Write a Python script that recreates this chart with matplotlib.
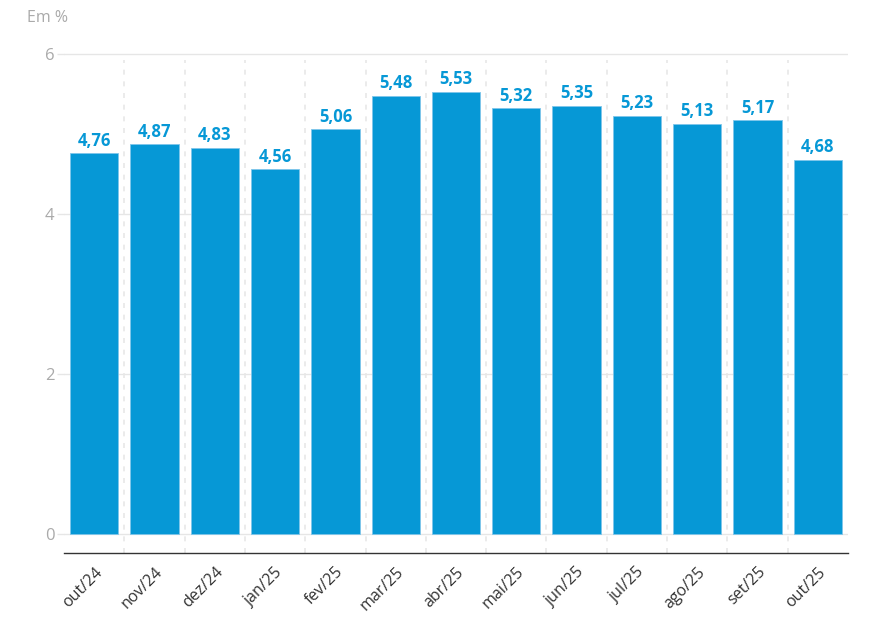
import matplotlib.pyplot as plt

plt.rcParams['font.family'] = ['Open Sans', 'DejaVu Sans']

months = ['out/24', 'nov/24', 'dez/24', 'jan/25', 'fev/25', 'mar/25', 'abr/25',
          'mai/25', 'jun/25', 'jul/25', 'ago/25', 'set/25', 'out/25']
rates = [4.76, 4.87, 4.83, 4.56, 5.06, 5.48, 5.53, 5.32, 5.35, 5.23, 5.13, 5.17, 4.68]
yticks = [0, 2, 4, 6]

blue = '#0698d6'
W, H = 873, 629
fig = plt.figure(figsize=(W / 100, H / 100), dpi=100)
ax = fig.add_axes([64 / W, (H - 553) / H, (848 - 64) / W, (553 - 50) / H])

ymin = -19 / 80
ax.set_xlim(-0.5, len(months) - 0.5)
ax.set_ylim(ymin, 6 + 4 / 80)

# horizontal gridlines
for t in yticks:
    ax.axhline(t, color='#e6e6e6', lw=1, zorder=0)

# dashed separators between months
for i in range(len(months) - 1):
    ax.vlines(i + 0.5, ymin, 5.925, colors='#e8e8e8', lw=1.2,
              linestyles=(0, (3, 4)), zorder=0)

x = list(range(len(months)))
bars = ax.bar(x, rates, width=0.8, color=blue, edgecolor='#7fc6ea',
              linewidth=0.6, zorder=2)
for xi, v in zip(x, rates):
    ax.text(xi, v + 0.045, f'{v:.2f}'.replace('.', ','), ha='center', va='bottom',
            color=blue, fontsize=12, fontweight='bold')

ax.set_yticks(yticks)
ax.set_yticklabels([str(t) for t in yticks], color='#aaaaaa', fontsize=12)
ax.tick_params(axis='y', length=5, color='#e6e6e6', width=1, pad=2)
ax.set_xticks(x)
ax.set_xticklabels(months, rotation=45, ha='right', rotation_mode='anchor',
                   fontsize=11.5, color='#333333')
ax.tick_params(axis='x', length=0, pad=8)

for s in ['left', 'right', 'top']:
    ax.spines[s].set_visible(False)
ax.spines['bottom'].set_color('#333333')
ax.spines['bottom'].set_linewidth(1)

fig.text(27 / W, 1 - 18 / H, 'Em %', color='#aaaaaa', fontsize=11.5, va='center')

fig.savefig('out.png', dpi=100)
